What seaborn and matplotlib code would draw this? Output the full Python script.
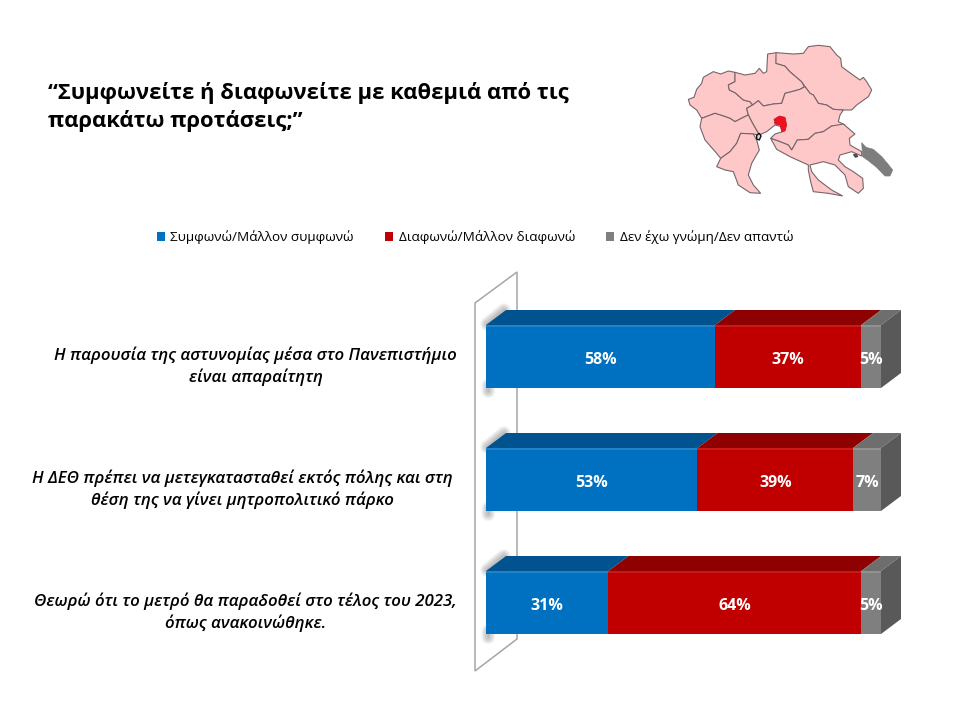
import numpy as np
import pandas as pd
import seaborn as sns
import matplotlib
matplotlib.use("Agg")
import matplotlib.pyplot as plt
from matplotlib.patches import Polygon, Patch

# Survey answers, percent of respondents
statements = [
    "Η παρουσία της αστυνομίας μέσα στο Πανεπιστήμιο\nείναι απαραίτητη",
    "Η ΔΕΘ πρέπει να μετεγκατασταθεί εκτός πόλης και στη\nθέση της να γίνει μητροπολιτικό πάρκο",
    "Θεωρώ ότι το μετρό θα παραδοθεί στο τέλος του 2023,\nόπως ανακοινώθηκε.",
]
answers = ["Συμφωνώ/Μάλλον συμφωνώ", "Διαφωνώ/Μάλλον διαφωνώ", "Δεν έχω γνώμη/Δεν απαντώ"]
agree = [58, 53, 31]
disagree = [37, 39, 64]
no_answer = [5, 7, 5]

title = "“Συμφωνείτε ή διαφωνείτε με καθεμιά από τις\nπαρακάτω προτάσεις;”"

front_colors = ["#0070c0", "#c00000", "#7f7f7f"]
rim_colors = ["#2a86cc", "#cc2020", "#959595"]
top_colors = ["#00538f", "#8f0000", "#6e6e6e"]
side_color = "#595959"

# Region outlines of the locator map, in map units
map_regions = [
    [(55,208),(72,202),(80,178),(95,160),(100,142),(130,125),(152,132),(175,123),(195,127),(195,155),(175,165),(178,180),(195,188),(220,210),(240,215),(248,225),(230,235),(235,255),(220,262),(195,275),(180,265),(160,258),(135,250),(95,265),(80,240),(60,225)],
    [(195,127),(225,135),(255,130),(268,115),(280,130),(290,125),(293,72),(320,68),(318,100),(345,108),(360,125),(395,155),(403,170),(390,178),(365,185),(345,190),(335,220),(310,222),(280,228),(265,212),(248,225),(240,215),(220,210),(195,188),(178,180),(175,165),(195,155)],
    [(318,68),(370,72),(400,70),(415,50),(430,48),(445,46),(480,50),(500,75),(512,85),(515,110),(535,125),(570,150),(580,142),(590,155),(605,180),(595,200),(560,225),(545,240),(520,240),(490,238),(470,225),(445,220),(430,195),(420,190),(405,170),(395,155),(360,125),(345,108),(318,100)],
    [(230,235),(248,225),(265,212),(280,228),(310,222),(335,220),(345,190),(365,185),(390,178),(405,170),(420,190),(430,195),(445,220),(470,225),(490,238),(520,240),(510,255),(505,275),(525,285),(500,288),(485,288),(460,305),(435,310),(415,328),(382,330),(365,360),(355,345),(330,335),(302,325),(315,312),(338,305),(335,290),(315,285),(290,305),(268,315),(258,298),(245,275),(235,255)],
    [(95,265),(135,250),(160,258),(180,265),(195,275),(220,262),(235,255),(245,275),(258,298),(268,315),(250,312),(212,310),(200,340),(180,365),(152,385),(140,370),(105,330),(90,290)],
    [(212,310),(250,312),(260,330),(268,360),(245,400),(235,435),(250,465),(272,490),(240,488),(205,465),(190,425),(165,420),(140,410),(152,385),(180,365),(200,340)],
    [(302,325),(330,335),(355,345),(365,360),(382,330),(415,328),(435,310),(460,305),(485,288),(520,282),(555,312),(538,325),(540,345),(575,365),(575,378),(545,365),(510,375),(505,390),(525,410),(550,425),(578,445),(580,475),(565,490),(535,470),(525,435),(495,405),(460,395),(420,405),(425,425),(445,450),(485,480),(518,498),(475,490),(430,485),(422,455),(415,420),(415,405),(360,380),(320,358)],
]
map_city = [(312,268),(328,258),(345,262),(350,285),(345,303),(335,305),(330,285),(315,282)]
map_peninsula = [(575,338),(588,352),(610,358),(635,380),(652,400),(668,420),(660,438),(645,438),(620,412),(595,392),(578,380)]
map_gulf = [(260,316),(268,310),(273,318),(268,330),(260,327)]
map_island = [(550,374),(558,372),(564,380),(556,382)]

sns.set_theme(style="white")
W, H = 954, 718
fig = plt.figure(figsize=(W / 100, H / 100), dpi=100, facecolor="white")

# Full-page layer in pixel units, for the backing panel and the map
page = fig.add_axes([0, 0, 1, 1], zorder=0)
page.set_xlim(0, W)
page.set_ylim(H, 0)
page.axis("off")

wall = [(475, 303), (517, 272), (517, 639), (475, 671)]
page.add_patch(Polygon(wall, closed=True, fc="white", ec="#a6a6a6", lw=1.1))


def to_page(points):
    return [(670 + x / 3, 30 + y / 3) for x, y in points]


for region in map_regions:
    page.add_patch(Polygon(to_page(region), closed=True, fc="#ffc8c8", ec="#75656a", lw=0.8))
page.add_patch(Polygon(to_page(map_city), closed=True, fc="#f01020", ec="#c01020", lw=0.5))
page.add_patch(Polygon(to_page(map_peninsula), closed=True, fc="#7d7d7d", ec="#7d7d7d", lw=0.5))
page.add_patch(Polygon(to_page(map_gulf), closed=True, fc="#dddddd", ec="#111111", lw=1.0))
page.add_patch(Polygon(to_page(map_island), closed=True, fc="#555555", ec="#333333", lw=0.5))

# Bars: stacked to a full 100% in each row
table = np.array([agree, disagree, no_answer], dtype=float)
shares = table / table.sum(axis=0) * 100
stack_end = shares.cumsum(axis=0)
stack_start = stack_end - shares

frame = pd.DataFrame(
    {
        "statement": np.tile(statements, 3),
        "answer": np.repeat(answers, 3),
        "end": stack_end.ravel(),
    }
)

ax = fig.add_axes([486 / W, 1 - 664 / H, 395 / W, 369 / H], zorder=2)
ax.patch.set_alpha(0)
palette = dict(zip(answers, front_colors))
sns.barplot(
    data=frame, x="end", y="statement", hue="answer",
    hue_order=answers[::-1], palette=palette, dodge=False,
    width=63 / 123, saturation=1, legend=False, ax=ax, linewidth=0,
)
ax.set_xlim(0, 100)
ax.set_ylim(2.5, -0.5)
ax.set_xlabel("")
ax.set_ylabel("")
ax.set_xticks([])
ax.set_yticks([])
sns.despine(ax=ax, left=True, bottom=True)

half = 63 / 123 / 2
depth_x, depth_y = 20, -15  # pixels, up and to the right on the page

depth_layer = fig.add_axes([0, 0, 1, 1], zorder=1)
depth_layer.set_xlim(0, W)
depth_layer.set_ylim(H, 0)
depth_layer.axis("off")


def on_page(x, y):
    px, py = ax.transData.transform((x, y))
    return px, H - py


def box_face(corners, pushed, color):
    """Fill a receding face from its front corners and the ones pushed back."""
    pts = [on_page(*p) for p in corners]
    pts += [(on_page(*p)[0] + depth_x, on_page(*p)[1] + depth_y) for p in pushed]
    depth_layer.add_patch(Polygon(pts, closed=True, fc=color, ec="none", zorder=2))


def soft_line(xs, ys):
    """Blurred shadow stroke, built up from wide faint strokes."""
    for width in np.arange(1.0, 11.0, 1.0):
        depth_layer.plot(xs, ys, color="#505050", lw=width, alpha=0.045,
                         solid_capstyle="round", zorder=1)


for row in range(len(statements)):
    top = row - half
    bottom = row + half

    # soft shadow falling on the panel behind each bar
    x0, y_top = on_page(0, top)
    x0, y_bot = on_page(0, bottom)
    soft_line([x0 + 1, x0 + depth_x - 2], [y_top - 1, y_top + depth_y])
    soft_line([x0 + 2, x0 + 2], [y_bot - 3, y_bot + 3])

    # top faces of the three segments
    for col in range(len(answers)):
        start, end = stack_start[col, row], stack_end[col, row]
        box_face([(start, top), (end, top)], [(end, top), (start, top)], top_colors[col])

    # right-hand end of the stack
    box_face([(100, top), (100, bottom)], [(100, bottom), (100, top)], side_color)

    # lighter rim along the upper edge of the front faces
    for col in range(len(answers)):
        start, end = stack_start[col, row], stack_end[col, row]
        ax.plot([start, end], [top + 0.012, top + 0.012], color=rim_colors[col], lw=1.2,
                solid_capstyle="butt", zorder=5)

    # value labels
    for col, values in enumerate((agree, disagree, no_answer)):
        middle = (stack_start[col, row] + stack_end[col, row]) / 2
        ax.annotate(f"{values[row]}%", xy=(middle, row), xytext=(0, -3.5), textcoords="offset pixels",
                    ha="center", va="center", color="white", fontsize=11.5,
                    fontweight="bold", family="Open Sans", zorder=6, annotation_clip=False)

# Statements to the left of the panel
label_right = [-29, -33, -29]
for row, text in enumerate(statements):
    ax.annotate(text, xy=(0, row), xytext=(label_right[row], -10), textcoords="offset pixels",
                ha="right", va="center", multialignment="center", style="italic",
                family="Open Sans", fontweight="semibold", fontsize=12.2, color="black",
                linespacing=1.35, annotation_clip=False)

fig.text(48 / W, 1 - 107 / H, title, ha="left", va="center", family="Open Sans",
         fontweight="bold", fontsize=15.8, color="black", linespacing=1.35)

handles = [Patch(fc=c, ec="none", label=a) for c, a in zip(front_colors, answers)]
fig.legend(handles=handles, ncol=3, loc="center", bbox_to_anchor=(475 / W, 1 - 237 / H),
           frameon=False, handlelength=0.62, handleheight=0.62, handletextpad=0.4,
           columnspacing=2.3, labelcolor="black", prop={"family": "Open Sans", "size": 9.7})

fig.savefig("out.png", dpi=100)
